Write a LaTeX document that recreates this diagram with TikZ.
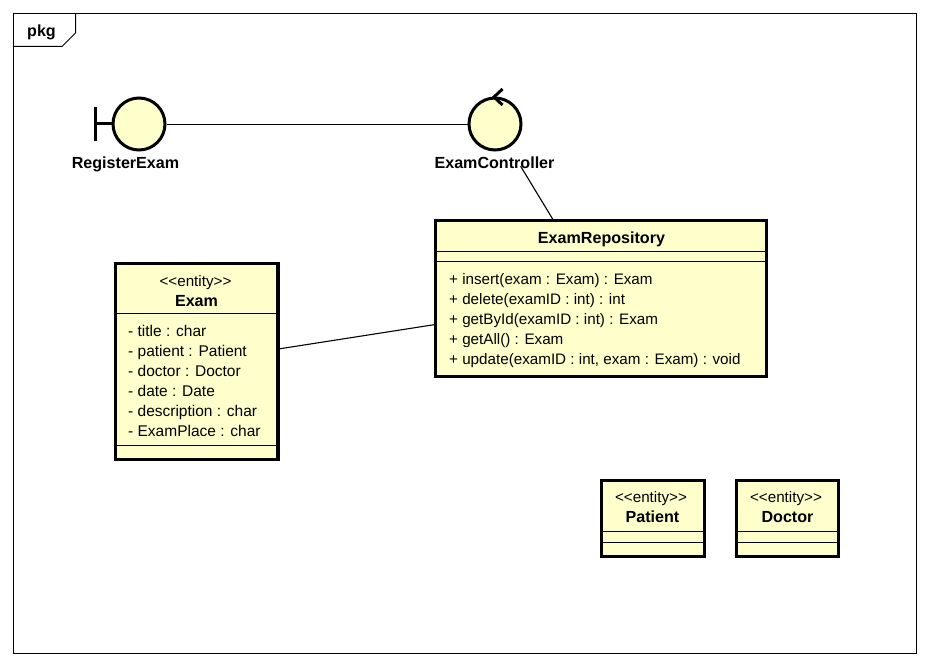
\documentclass[tikz,border=0pt]{standalone}
\usepackage{fontspec}
\setmainfont{Liberation Sans}
\definecolor{umlfill}{HTML}{FFFFCC}
\tikzset{
  frameline/.style={draw=black,line width=1pt},
  classbox/.style={draw=black,fill=umlfill,line width=3.4pt,rectangle,inner sep=0pt},
  sepline/.style={draw=black,line width=1pt},
  robust/.style={draw=black,fill=umlfill,line width=3pt,circle,inner sep=0pt,minimum size=52pt},
  glyphline/.style={draw=black,line width=3pt},
  assoc/.style={draw=black,line width=1.1pt},
  plain/.style={inner sep=0pt,anchor=base,font=\fontsize{15.2}{18}\selectfont},
  bold/.style={plain,font=\fontsize{16.1}{18}\selectfont\bfseries},
  item/.style={plain,anchor=base west},
  attr/.style={item,font=\fontsize{15.5}{18}\selectfont},
}
\begin{document}
\begin{tikzpicture}[x=1pt,y=-1pt]
\useasboundingbox (0,0) rectangle (929,666);
\fill[white] (0,0) rectangle (929,666);
% frame
\draw[frameline] (13.5,13.5) rectangle (916.5,653.5);
\draw[frameline] (13.5,46.5) -- (62,46.5) -- (75.5,33) -- (75.5,13.5);
\node[bold] (pkgname) at (41.5,37) {pkg};
% nodes and connectors underneath
\node[robust] (boundary) at (139,124) {};
\node[robust] (control) at (495,124) {};
\node[classbox,minimum width=331pt,minimum height=156pt] (repo) at (601,298.7) {};
\node[classbox,minimum width=162.5pt,minimum height=196pt] (exam) at (196.8,361.7) {};
\node[classbox,minimum width=103pt,minimum height=76pt] (patient) at (653,518.7) {};
\node[classbox,minimum width=102pt,minimum height=76pt] (doctor) at (787.5,518.7) {};
\draw[assoc,line width=1pt] ([yshift=-0.5pt]boundary.east) -- ([yshift=-0.5pt]control.west);
\draw[assoc,shorten <=49.4pt] (control.center) -- (repo);
\draw[assoc] (exam) -- (repo);
% boundary glyph
\coordinate (barmid) at (95,124);
\draw[glyphline] (95,107) -- (95,141);
\draw[glyphline] (barmid) -- (boundary.west);
% control glyph
\coordinate (arrowtip) at (494,97);
\draw[glyphline] (502.5,89) -- (arrowtip) -- (502.5,105);
\node[bold] (boundaryname) at (125.5,168) {RegisterExam};
\node[bold] (controlname) at (494.5,168) {ExamController};
% ExamRepository
\node[bold] (reponame) at (601.5,243) {ExamRepository};
\draw[sepline] (repo.west |- 0,251) -- (repo.east |- 0,251);
\draw[sepline] (repo.west |- 0,261) -- (repo.east |- 0,261);
\node[item] (op1) at (449,284) {+ insert(exam : Exam) : Exam};
\node[item] (op2) at (449,304.5) {+ delete(examID : int) : int};
\node[item] (op3) at (449,324.5) {+ getById(examID : int) : Exam};
\node[item] (op4) at (449,344.5) {+ getAll() : Exam};
\node[item] (op5) at (449,364.5) {+ update(examID : int, exam : Exam) : void};
% Exam
\node[plain] (examst) at (195.5,286) {<{}<entity>{}>};
\node[bold] (examname) at (196.5,306) {Exam};
\draw[sepline] (exam.west |- 0,313.5) -- (exam.east |- 0,313.5);
\node[attr] (a1) at (128,336) {- title : char};
\node[attr] (a2) at (128,356) {- patient : Patient};
\node[attr] (a3) at (128,376.5) {- doctor : Doctor};
\node[attr] (a4) at (128,396.5) {- date : Date};
\node[attr] (a5) at (128,416.5) {- description : char};
\node[attr] (a6) at (128,436.5) {- ExamPlace : char};
\draw[sepline] (exam.west |- 0,445.5) -- (exam.east |- 0,445.5);
% Patient
\node[plain] (patientst) at (651,502) {<{}<entity>{}>};
\node[bold] (patientname) at (652.5,522.5) {Patient};
\draw[sepline] (patient.west |- 0,531.5) -- (patient.east |- 0,531.5);
\draw[sepline] (patient.west |- 0,542) -- (patient.east |- 0,542);
% Doctor
\node[plain] (doctorst) at (786,502) {<{}<entity>{}>};
\node[bold] (doctorname) at (787.5,522.5) {Doctor};
\draw[sepline] (doctor.west |- 0,531.5) -- (doctor.east |- 0,531.5);
\draw[sepline] (doctor.west |- 0,542) -- (doctor.east |- 0,542);
\end{tikzpicture}
\end{document}
